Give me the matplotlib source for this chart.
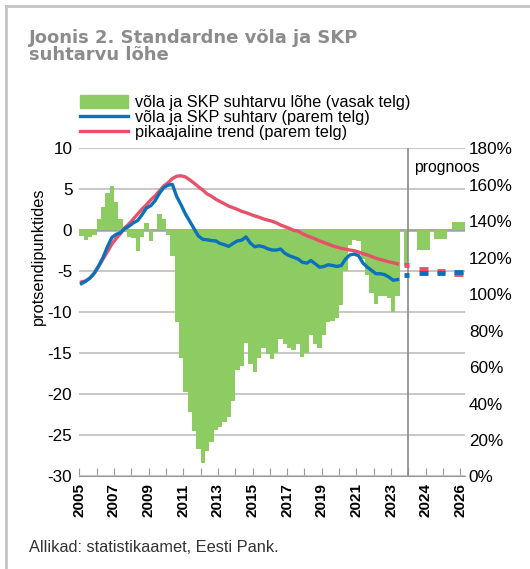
import matplotlib
matplotlib.use('Agg')
import matplotlib.pyplot as plt
import numpy as np
import pandas as pd
from matplotlib.patches import Patch
from matplotlib.lines import Line2D

plt.rcParams['font.family'] = ['Liberation Sans', 'DejaVu Sans']
plt.rcParams['axes.unicode_minus'] = False

# kvartaliandmed 2005Q1 - 2023Q2
quarters = pd.period_range('2005Q1', '2023Q2', freq='Q')
gap = [-0.75, -1.2, -0.8, -0.6, 1.4, 2.9, 4.5, 5.4, 3.5, 1.4,
       -0.2, -0.8, -0.9, -2.5, -0.8, 0.9, -1.3, 0.1, 2.0, 1.4,
       -0.6, -3.1, -11.2, -15.6, -19.7, -22.2, -24.4, -26.6, -28.4, -26.9,
       -25.8, -24.3, -24.0, -23.3, -22.8, -20.8, -17.0, -16.5, -13.7, -16.3,
       -17.3, -15.6, -14.4, -15.1, -15.7, -14.9, -13.3, -13.9, -14.4, -14.6,
       -13.9, -15.4, -15.0, -12.8, -13.9, -14.3, -12.8, -11.2, -11.0, -10.7,
       -9.1, -5.0, -1.8, -1.2, -1.3, -3.5, -5.5, -7.6, -9.0, -8.0,
       -8.0, -8.2, -9.9, -8.0]
debt = [105.8, 107.1, 108.9, 111.6, 115.7, 120.2, 126.0, 131.0, 132.8, 133.7,
        135.9, 137.3, 139.1, 140.4, 143.6, 147.2, 148.5, 151.2, 155.3, 158.4,
        159.8, 160.2, 153.5, 149.0, 144.0, 140.0, 135.9, 131.9, 130.1, 129.8,
        129.4, 129.2, 127.8, 127.1, 126.2, 127.8, 129.2, 129.6, 131.4, 128.0,
        126.0, 126.5, 126.0, 124.9, 124.2, 124.2, 124.7, 122.4, 121.1, 120.2,
        119.3, 117.5, 117.0, 118.4, 116.6, 114.8, 115.2, 116.1, 115.7, 115.2,
        115.7, 119.3, 121.5, 122.0, 121.1, 117.0, 114.8, 113.0, 111.2, 111.2,
        110.7, 109.4, 107.6, 108.0]
trend = [106.7, 107.3, 108.9, 111.6, 115.2, 119.3, 123.3, 127.4, 130.5, 133.2,
         136.4, 138.6, 141.3, 144.0, 146.7, 149.0, 151.7, 153.9, 156.6, 159.3,
         161.1, 163.4, 164.7, 164.9, 164.3, 162.7, 160.9, 158.9, 157.1, 155.0,
         153.7, 152.1, 150.8, 149.6, 148.3, 147.4, 146.5, 145.4, 144.7, 143.8,
         142.9, 142.2, 141.3, 140.6, 140.0, 139.1, 137.9, 137.0, 136.1, 135.0,
         134.6, 133.2, 132.1, 131.2, 130.3, 129.2, 128.3, 127.4, 126.5, 125.8,
         125.1, 124.7, 124.2, 123.8, 123.1, 122.2, 121.5, 120.6, 119.7, 119.0,
         118.4, 117.7, 117.2, 116.6]

# prognoos (aastad)
fc_years = ['2023', '2024', '2025', '2026']
fc_gap = [-4.4, -2.4, -1.1, 1.0]
fc_debt = [110.5, 111.4, 111.8, 112.0]
fc_trend = [116.2, 113.6, 112.9, 111.0]

year_labels = ['2005', '2007', '2009', '2011', '2013', '2015', '2017',
               '2019', '2021', '2023', '2024', '2026']

GREEN = '#8DCB63'
BLUE = '#0A72BA'
RED = '#E8516A'
GRID = '#BDBDBD'

n = len(quarters)
xq = np.arange(n) + 0.5
xf = np.array([n + 1.5] + [n + 5.5 + 4 * k for k in range(len(fc_years) - 1)])
wf = np.array([1] + [3] * (len(fc_years) - 1))
hw = np.array([0.6] + [1.0] * (len(fc_years) - 1))
split = n + 2

fig = plt.figure(figsize=(5.3, 5.69), dpi=100)
ax = fig.add_axes([0.1496, 0.1626, 0.7272, 0.5768])
ax2 = ax.twinx()

ax.bar(xq, gap, width=1.0, color=GREEN, linewidth=0, zorder=2)
ax.bar(xf, fc_gap, width=wf, color=GREEN, linewidth=0, zorder=2)

ax.set_ylim(-30, 10)
ax.set_yticks(np.arange(-30, 11, 5))
ax.set_xlim(0, n + 15)
ax.set_axisbelow(True)
ax.grid(axis='y', color=GRID, lw=1.2, zorder=0)
ax.axhline(0, color='#A0A0A0', lw=1.8, zorder=1)
ax.axvline(split, color='#8A8A8A', lw=1.2, zorder=3)

ticks = np.arange(0, n + 15, 4)
ax.set_xticks(ticks)
labels = [''] * len(ticks)
labels[::2] = year_labels
ax.set_xticklabels(labels, rotation=90, fontweight='bold', fontsize=11)
ax.tick_params(axis='x', direction='in', length=6, color='#999999', pad=5)
ax.tick_params(axis='y', length=0, labelsize=12.3, pad=5)
for s in ['top', 'right', 'left']:
    ax.spines[s].set_visible(False)
    ax2.spines[s].set_visible(False)
ax2.spines['bottom'].set_visible(False)
ax.spines['bottom'].set_color('#999999')

ax2.plot(xq, trend, color=RED, lw=2.4, zorder=3)
ax2.plot(xq, debt, color=BLUE, lw=2.4, zorder=4)
ax2.hlines(fc_trend, xf - hw, xf + hw, color=RED, lw=3.5, zorder=3)
ax2.hlines(fc_debt, xf - hw, xf + hw, color=BLUE, lw=3.5, zorder=4)
ax2.set_ylim(0, 180)
ax2.set_yticks(np.arange(0, 181, 20))
ax2.set_yticklabels([f'{v}%' for v in range(0, 181, 20)])
ax2.tick_params(axis='y', length=0, labelsize=12.3, pad=3)

ax.text(split + 1.3, 7.6, 'prognoos', fontsize=11.3, va='center', ha='left')

fig.text(38 / 530, 1 - 256 / 569, 'protsendipunktides', rotation=90,
         fontsize=11.8, ha='center', va='center')

handles = [Patch(color=GREEN),
           Line2D([], [], color=BLUE, lw=2.4),
           Line2D([], [], color=RED, lw=2.4)]
texts = ['võla ja SKP suhtarvu lõhe (vasak telg)',
         'võla ja SKP suhtarv (parem telg)',
         'pikaajaline trend (parem telg)']
fig.legend(handles, texts, loc='upper left', bbox_to_anchor=(80 / 530, 1 - 95 / 569),
           frameon=False, fontsize=11.7, handlelength=2.95, handleheight=0.8,
           handletextpad=0.45, labelspacing=0.0, borderpad=0.0, borderaxespad=0.0)

fig.text(29 / 530, 1 - 29 / 569, 'Joonis 2. Standardne võla ja SKP\nsuhtarvu lõhe',
         fontsize=13, fontweight='bold', color='#8C8C8C', va='top', ha='left',
         linespacing=0.95, family='DejaVu Sans')
fig.text(29 / 530, 1 - 548 / 569, 'Allikad: statistikaamet, Eesti Pank.',
         fontsize=11.8, color='#333333', va='center', ha='left')

fig.add_artist(Line2D([6 / 530, 6 / 530], [0, 1 - 6 / 569], transform=fig.transFigure,
                      color='#C4C4C4', lw=2))
fig.add_artist(Line2D([6 / 530, 1], [1 - 6 / 569, 1 - 6 / 569], transform=fig.transFigure,
                      color='#C4C4C4', lw=2))

fig.savefig('out.png', dpi=100)
plt.close(fig)
